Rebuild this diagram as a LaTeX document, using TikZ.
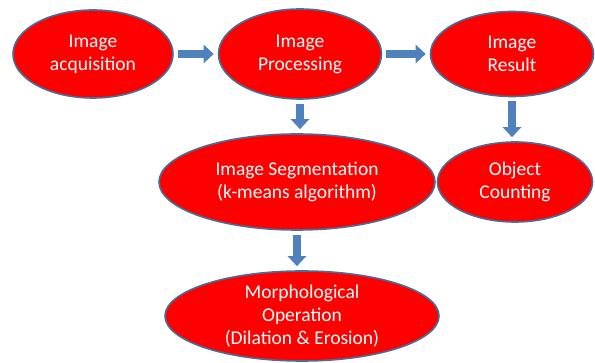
\documentclass[tikz,border=0pt]{standalone}
\usepackage{fontspec}
\setmainfont{Carlito}
\usetikzlibrary{shapes.geometric,arrows.meta}
\definecolor{boxred}{HTML}{FF0000}
\definecolor{edgeblue}{HTML}{41719C}
\definecolor{arrowblue}{HTML}{4F81BD}
\begin{document}
\begin{tikzpicture}[x=1pt,y=-1pt,
  stage/.style={ellipse,draw=edgeblue,line width=1.6pt,fill=boxred,text=white,
    inner sep=0pt,align=center,font=\fontsize{19.5}{23}\selectfont},
  blockarrow/.style={draw=arrowblue,line width=8pt,
    -{Triangle[width=18pt,length=10pt,fill=arrowblue]},
    shorten <=4pt,shorten >=4pt}]
\useasboundingbox (0,0) rectangle (595,363);
\node[stage,minimum width=160pt,minimum height=88pt] (acq) at (93,54) {Image\\acquisition};
\node[stage,minimum width=163pt,minimum height=90pt] (proc) at (300,54) {Image\\Processing};
\node[stage,minimum width=163pt,minimum height=85pt] (res) at (512,54) {Image\\Result};
\node[stage,minimum width=155pt,minimum height=80pt] (cnt) at (515,182) {Object\\Counting};
\node[stage,minimum width=276pt,minimum height=96pt] (seg) at (297,182) {Image Segmentation\\(k-means algorithm)};
\node[stage,minimum width=274pt,minimum height=90pt] (mor) at (302,316) {Morphological\\Operation\\(Dilation \& Erosion)};
\draw[blockarrow] (acq) -- (proc);
\draw[blockarrow] (proc) -- (res);
\draw[blockarrow] (proc.south) -- (proc.south |- seg.north);
\draw[blockarrow] (res.south) -- (res.south |- cnt.north);
\draw[blockarrow] (seg.south) -- (seg.south |- mor.north);
\end{tikzpicture}
\end{document}
